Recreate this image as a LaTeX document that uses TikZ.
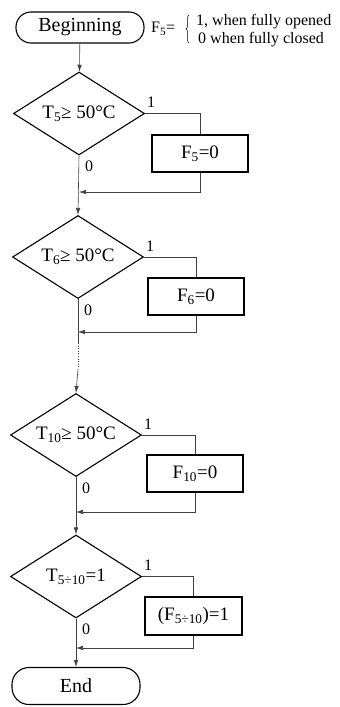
\documentclass[tikz,border=0pt]{standalone}
\usepackage{fontspec}
\setmainfont{Liberation Serif}
\usetikzlibrary{shapes.geometric,arrows.meta,decorations.pathreplacing,calc}
\begin{document}
\begin{tikzpicture}[x=1pt,y=-1pt,
  term/.style={draw,line width=1.1pt,rounded corners=15pt,minimum width=128pt,minimum height=31pt,inner sep=0pt,font=\fontsize{20}{24}\selectfont},
  dec/.style={draw,diamond,aspect=1.58,line width=1.1pt,minimum width=131pt,minimum height=83pt,inner sep=0pt,font=\fontsize{19}{22}\selectfont},
  proc/.style={draw,rectangle,line width=1.1pt,minimum width=96pt,minimum height=37pt,inner sep=0pt,font=\fontsize{19}{22}\selectfont},
  conn/.style={line width=0.6pt,draw=black!75},
  arr/.style={conn,-{Latex[length=7pt,width=4.5pt]}},
  lbl/.style={font=\fontsize{16}{18}\selectfont,inner sep=0pt},
  note/.style={font=\fontsize{16}{18}\selectfont,inner sep=0pt,anchor=west}]
\useasboundingbox (0,0) rectangle (340,707);
% nodes
\node[term] (begin) at (80,27.5) {Beginning};
\node[note] (fdef) at (151,29) {F\textsubscript{5}=};
\node[note] (open) at (196,22) {1, when fully opened};
\node[note] (closed) at (198,40) {0 when fully closed};
\draw[line width=0.5pt,decorate,decoration={brace,amplitude=3pt}] (189,43) -- (189,15);

\node[dec] (d1) at (79,113.5) {T\textsubscript{5}≥ 50°C};
\node[proc] (b1) at (200,153.5) {F\textsubscript{5}=0};
\node[dec] (d2) at (78,257) {T\textsubscript{6}≥ 50°C};
\node[proc] (b2) at (196,296.5) {F\textsubscript{6}=0};
\node[dec] (d3) at (76,435) {T\textsubscript{10}≥ 50°C};
\node[proc] (b3) at (195,473.5) {F\textsubscript{10}=0};
\node[dec] (d4) at (76,576.5) {T\textsubscript{5÷10}=1};
\node[proc,minimum width=97pt,minimum height=38pt] (b4) at (193.5,616) {(F\textsubscript{5÷10})=1};
\node[term,minimum height=37pt,rounded corners=17pt] (end) at (76,686) {End};

% junction coordinates
\coordinate (j1) at (79,192);
\coordinate (j2) at (78,332);
\coordinate (j3) at (76,512);
\coordinate (j4) at (76,648);
\coordinate (g1) at (78,343);
\coordinate (g2) at (78,369);

% main flow
\draw[arr] (begin) -- (d1);
\draw[arr] (d1.south) -- (d2.north);
\draw[conn] (d2.south) -- (g1);
\draw[conn,dotted,line width=0.9pt] (g1) -- (g2);
\draw[arr] (g2) -- (d3.north);
\draw[arr] (d3.south) -- (d4.north);
\draw[arr] (d4.south) -- (end.north);

% branches
\foreach \d/\b/\j in {d1/b1/j1,d2/b2/j2,d3/b3/j3,d4/b4/j4}{
  \draw[conn] (\d.east) -| (\b.north);
  \draw[arr] (\b.south) |- (\j);
  \node[lbl] at ($(\d.east)+(6,-11)$) {1};
  \node[lbl] at ($(\d.south)+(10,11)$) {0};
}
\end{tikzpicture}
\end{document}
